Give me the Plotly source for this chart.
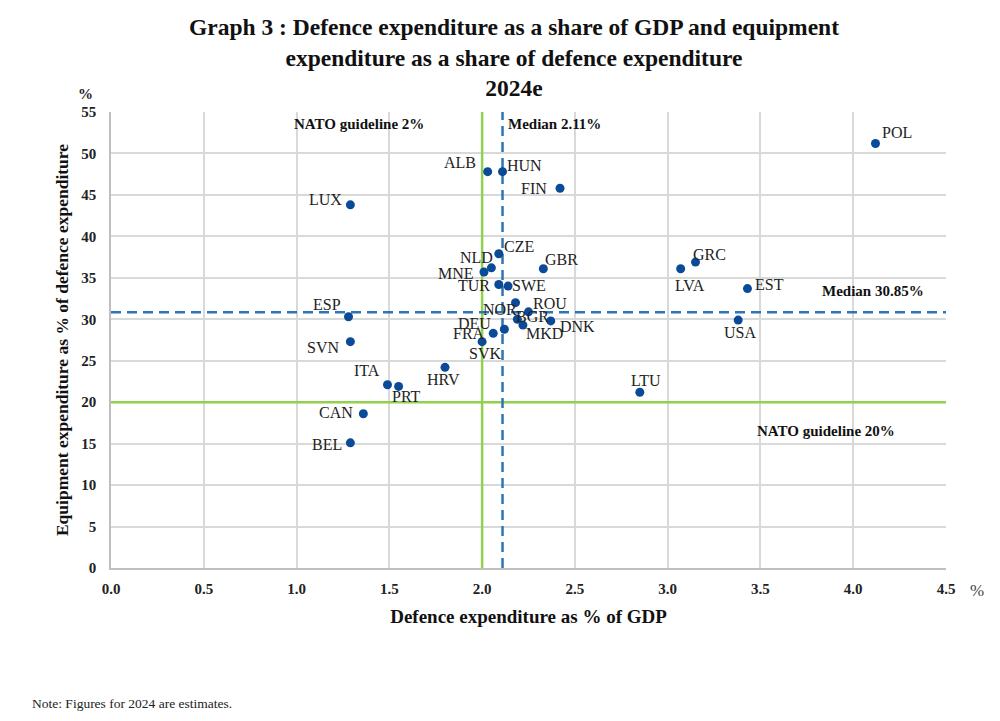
import plotly.graph_objects as go

# ---------------- data ----------------
countries = ["POL", "ALB", "HUN", "FIN", "LUX", "CZE", "NLD", "MNE", "GBR", "TUR",
             "SWE", "NOR", "ROU", "BGR", "DNK", "MKD", "DEU", "FRA", "SVK", "HRV",
             "ITA", "PRT", "CAN", "BEL", "ESP", "SVN", "GRC", "LVA", "EST", "USA", "LTU"]
gdp_share = [4.12, 2.03, 2.11, 2.42, 1.29, 2.09, 2.05, 2.01, 2.33, 2.09,
             2.14, 2.18, 2.25, 2.19, 2.37, 2.22, 2.12, 2.06, 2.00, 1.80,
             1.49, 1.55, 1.36, 1.29, 1.28, 1.29, 3.15, 3.07, 3.43, 3.38, 2.85]
equip_share = [51.2, 47.8, 47.8, 45.8, 43.8, 37.9, 36.2, 35.7, 36.1, 34.2,
               34.0, 32.0, 30.9, 30.0, 29.8, 29.3, 28.8, 28.3, 27.3, 24.2,
               22.1, 21.9, 18.6, 15.1, 30.3, 27.3, 36.9, 36.1, 33.7, 29.9, 21.2]

nato_gdp_guideline = 2.0
nato_equip_guideline = 20.0
median_gdp = 2.11
median_equip = 30.85

x_ticks = [0.0, 0.5, 1.0, 1.5, 2.0, 2.5, 3.0, 3.5, 4.0, 4.5]
y_ticks = [0, 5, 10, 15, 20, 25, 30, 35, 40, 45, 50, 55]

# label offsets in pixels (style only)
label_offsets = {
    "POL": (22, 11), "ALB": (-28, 9), "HUN": (22, 6), "FIN": (-26, 0), "LUX": (-25, 5),
    "CZE": (20, 7), "NLD": (-15, 10), "MNE": (-28, -1), "GBR": (18, 9), "TUR": (-25, -1),
    "SWE": (21, 1), "NOR": (-16, -7), "ROU": (21, 8), "BGR": (15, 3), "DNK": (27, -6),
    "MKD": (22, -8), "DEU": (-30, 6), "FRA": (-24, 0), "SVK": (3, -12), "HRV": (-2, -12),
    "ITA": (-20, 14), "PRT": (8, -10), "CAN": (-27, 1), "BEL": (-23, -2), "ESP": (-22, 12),
    "SVN": (-27, -6), "GRC": (14, 8), "LVA": (9, -17), "EST": (22, 4), "USA": (2, -12),
    "LTU": (6, 12),
}

FONT = "Liberation Serif"
GREEN = "#92D050"
BLUE_DASH = "#2E75B6"
MARKER = "#0B4A97"

# page offset of the figure (body margin) and plot margins
OFF = 8
L, R, T, B = 103, 62, 104, 161
W, H = 1000, 721
pw, ph = W - L - R, H - T - B


def px_to_paper(X, Y):
    return (X - OFF - L) / pw, 1 - (Y - OFF - T) / ph


fig = go.Figure()

# reference lines
fig.add_shape(type="line", x0=nato_gdp_guideline, x1=nato_gdp_guideline, y0=0, y1=55,
              xref="x", yref="y", line=dict(color=GREEN, width=2.5), layer="between")
fig.add_shape(type="line", x0=0, x1=4.5, y0=nato_equip_guideline, y1=nato_equip_guideline,
              xref="x", yref="y", line=dict(color=GREEN, width=2.5), layer="between")
fig.add_shape(type="line", x0=median_gdp, x1=median_gdp, y0=0, y1=55,
              xref="x", yref="y", line=dict(color=BLUE_DASH, width=2.5, dash="10px,6px"), layer="between")
fig.add_shape(type="line", x0=0, x1=4.5, y0=median_equip, y1=median_equip,
              xref="x", yref="y", line=dict(color=BLUE_DASH, width=2.5, dash="10px,6px"), layer="between")

fig.add_trace(go.Scatter(
    x=gdp_share, y=equip_share, mode="markers", text=countries,
    marker=dict(color=MARKER, size=9, line=dict(width=0)),
    hovertemplate="%{text}: %{x:.2f}%, %{y:.1f}%<extra></extra>",
    showlegend=False,
))

annotations = []
for c, xv, yv in zip(countries, gdp_share, equip_share):
    dx, dy = label_offsets[c]
    annotations.append(dict(x=xv, y=yv, xref="x", yref="y", text=c, showarrow=False,
                            xshift=dx, yshift=dy, xanchor="center", yanchor="middle",
                            font=dict(family=FONT, size=16, color="#222222")))

bold_notes = [
    (f"NATO guideline {nato_gdp_guideline:.0f}%", 0.975, 53.5),
    (f"Median {median_gdp:.2f}%", 2.13, 53.5),
    (f"Median {median_equip:.2f}%", 3.82, 33.4),
    (f"NATO guideline {nato_equip_guideline:.0f}%", 3.47, 16.5),
]
for txt, xv, yv in bold_notes:
    annotations.append(dict(x=xv, y=yv, xref="x", yref="y", text=f"<b>{txt}</b>",
                            showarrow=False, xanchor="left", yanchor="middle",
                            font=dict(family=FONT, size=15, color="#111111")))

for txt, X, Y, anc, sz, col in [
    ("<b>%</b>", 85, 94, "center", 15, "#222222"),
    ("%", 977, 590, "center", 17, "#444444"),
    ("Note: Figures for 2024 are estimates.", 30, 703, "left", 13.5, "#222222"),
]:
    px_, py_ = px_to_paper(X, Y)
    annotations.append(dict(x=px_, y=py_, xref="paper", yref="paper", text=txt, showarrow=False,
                            xanchor=anc, yanchor="middle", font=dict(family=FONT, size=sz, color=col)))

# title as a centered 3-line block (middle line centre at y=58 px)
tx, ty = px_to_paper(514, 58)
annotations.append(dict(
    x=tx, y=ty, xref="paper", yref="paper", showarrow=False, xanchor="center", yanchor="middle",
    text="<b>Graph 3 : Defence expenditure as a share of GDP and equipment<br>"
         "expenditure as a share of defence expenditure<br>2024e</b>",
    font=dict(family=FONT, size=23.5, color="#111111")))

fig.update_layout(
    width=W, height=H,
    margin=dict(l=L, r=R, t=T, b=B, autoexpand=False),
    paper_bgcolor="white", plot_bgcolor="white",
    font=dict(family=FONT, color="#111111"),
    annotations=annotations,
    xaxis=dict(range=[0, 4.5], tickvals=x_ticks, ticktext=[f"<b>{v:.1f}</b>" for v in x_ticks],
               showgrid=True, gridcolor="#D9D9D9", gridwidth=1.5, zeroline=False,
               showline=True, linecolor="#BFBFBF", linewidth=1.5,
               ticks="outside", ticklen=6, tickcolor="rgba(0,0,0,0)",
               tickfont=dict(family=FONT, size=15, color="#222222"),
               title=dict(text="<b>Defence expenditure as % of GDP</b>", standoff=14,
                          font=dict(family=FONT, size=19, color="#111111")),
               fixedrange=True),
    yaxis=dict(range=[0, 55], tickvals=y_ticks, ticktext=[f"<b>{v}</b>" for v in y_ticks],
               showgrid=True, gridcolor="#D9D9D9", gridwidth=1.5, zeroline=False,
               showline=True, linecolor="#BFBFBF", linewidth=1.5,
               ticks="outside", ticklen=10, tickcolor="rgba(0,0,0,0)",
               tickfont=dict(family=FONT, size=15, color="#222222"),
               title=dict(text="<b>Equipment expenditure as % of defence expenditure</b>", standoff=8,
                          font=dict(family=FONT, size=17.5, color="#111111")),
               fixedrange=True),
)

fig.write_html("out.html")
